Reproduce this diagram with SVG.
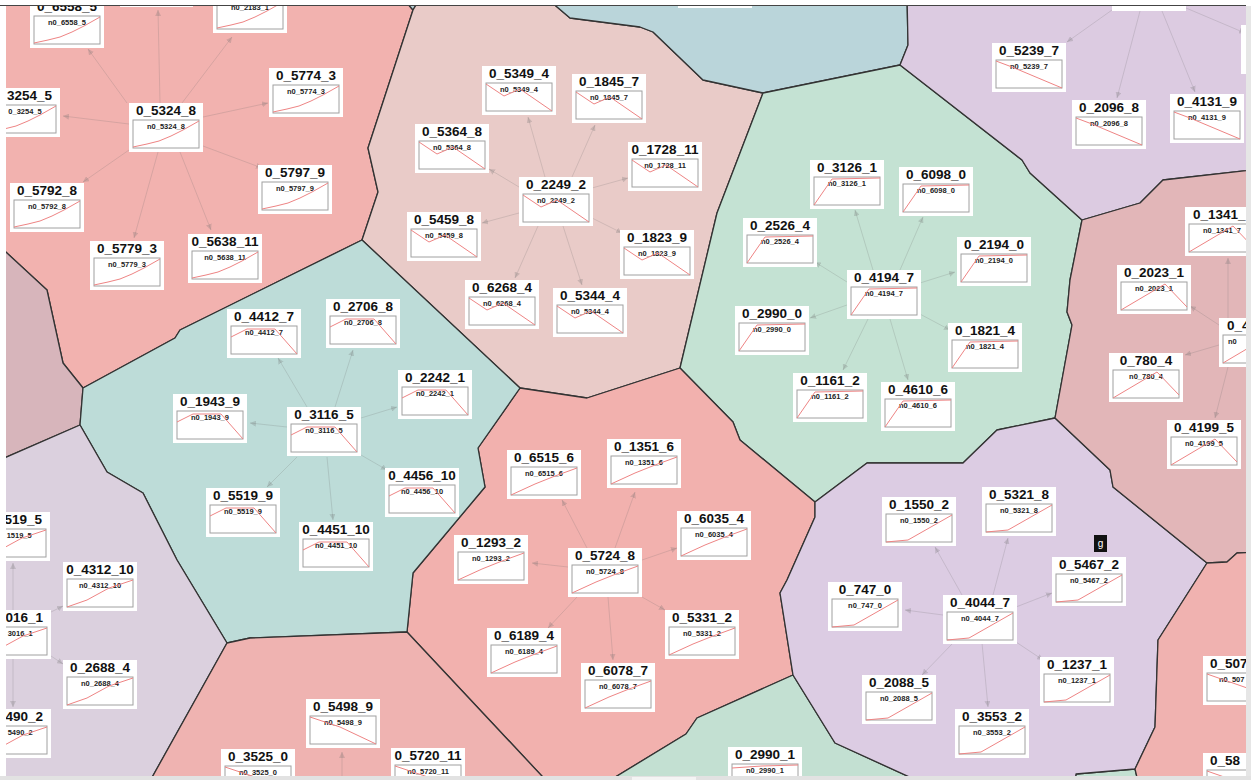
<svg xmlns="http://www.w3.org/2000/svg" xmlns:xlink="http://www.w3.org/1999/xlink" width="1251" height="780" viewBox="0 0 1251 780">
<style>
.rg{stroke:#333;stroke-width:1.3;stroke-linejoin:round}
.nb{fill:#fff}
.ib{fill:#fff;stroke:#a0a0a0;stroke-width:1}
.t{font-family:"Liberation Sans",Arial,sans-serif;font-weight:bold;font-size:13.5px;fill:#111;text-anchor:middle}
.l{font-family:"Liberation Sans",Arial,sans-serif;font-weight:bold;font-size:7.5px;fill:#222;text-anchor:middle}
.te{text-anchor:end}
.ts{text-anchor:start}
.ch{fill:none;stroke:#ee8484;stroke-width:1}
#edges line{stroke:#6a6a6a;stroke-opacity:0.2;stroke-width:1;marker-end:url(#ah)}
</style>
<defs>
<clipPath id="frame"><rect x="6" y="6" width="1240" height="770"/></clipPath>
<marker id="ah" markerWidth="6" markerHeight="6" refX="6" refY="3" orient="auto" markerUnits="userSpaceOnUse"><path d="M0,0 L6,3 L0,6 z" fill="#6a6a6a" fill-opacity="0.25"/></marker>
<polyline id="chA" class="ch" points="0,27 14,24 26,21 38,16 50,10 66,1"/>
<polyline id="chB" class="ch" points="0,1 18,13 34,6 66,28"/>
<polyline id="chC" class="ch" points="0,11 16,3 44,3 66,28"/>
<polyline id="chD" class="ch" points="0,28 18,2 66,1"/>
<polyline id="chE" class="ch" points="0,28 24,17 44,9 66,1"/>
<polyline id="chF" class="ch" points="0,1 16,7 66,28"/>
<polyline id="chG" class="ch" points="0,28 44,2 66,25"/>
<polyline id="chH" class="ch" points="0,28 22,26 66,1"/>
<polyline id="chK" class="ch" points="0,28 20,21 42,9 66,1"/>
<polyline id="chJ" class="ch" points="0,1 30,11 66,28"/>
<polyline id="chI" class="ch" points="0,4 30,2 66,1"/>
<polyline id="chM" class="ch" points="0,1 66,24"/>
</defs>
<rect width="1251" height="780" fill="#fff"/>
<g clip-path="url(#frame)">
<g id="regions">
<polygon class="rg" fill="#f2b2af" points="-5,-5 400,-5 413,10 368,148 378,192 362,240 277,282 180,330 175,338 83,388 63,363 47,290 -5,242"/>
<polygon class="rg" fill="#b7cfd6" points="400,-5 422,-5 413,10"/>
<polygon class="rg" fill="#d7b5bb" points="-5,242 47,290 63,363 83,388 80,425 -5,462"/>
<polygon class="rg" fill="#e9cbc8" points="413,10 422,-5 543,-5 570,18 640,27 653,32 703,80 763,93 717,213 680,368 587,398 520,388 362,240 378,192 368,148"/>
<polygon class="rg" fill="#bad5da" points="543,-5 570,18 640,27 653,32 703,80 763,93 900,65 908,45 907,-5"/>
<polygon class="rg" fill="#c4e2d3" points="763,93 900,65 1022,160 1030,173 1082,220 1070,280 1067,312 1072,325 1055,418 997,430 963,463 867,463 815,502 740,440 733,422 680,368 717,213"/>
<polygon class="rg" fill="#f2b1ae" points="520,388 587,398 680,368 733,422 740,440 815,502 815,517 787,580 780,593 793,675 697,718 686,734 594,790 555,790 407,632 413,573 485,487 478,448"/>
<polygon class="rg" fill="#bddcd8" points="362,240 520,388 478,448 485,487 413,573 407,632 250,638 227,643 177,560 143,493 107,472 80,425 83,388 175,338 180,330 277,282"/>
<polygon class="rg" fill="#dbd0de" points="-5,462 80,425 107,472 143,493 177,560 227,643 145,790 -5,790"/>
<polygon class="rg" fill="#efb3b1" points="227,643 250,638 407,632 555,790 145,790"/>
<polygon class="rg" fill="#c3e0d2" points="594,790 686,734 697,718 793,675 835,743 938,790"/>
<polygon class="rg" fill="#c3e0d2" points="1074,790 1076,774 1135,769 1140,790"/>
<polygon class="rg" fill="#dccce3" points="815,502 867,463 963,463 997,430 1055,418 1110,470 1113,487 1207,563 1158,640 1155,727 1135,769 1076,774 1074,790 938,790 835,743 793,675 780,593 787,580 815,517"/>
<polygon class="rg" fill="#dccbe1" points="907,-5 1260,-5 1260,169 1163,180 1140,203 1082,220 1030,173 1022,160 900,65 908,45"/>
<polygon class="rg" fill="#e2b6b8" points="1082,220 1140,203 1163,180 1260,169 1260,552 1237,553 1227,562 1207,563 1113,487 1110,470 1055,418 1072,325 1067,312 1070,280"/>
<polygon class="rg" fill="#f0b2b0" points="1207,563 1227,562 1237,553 1260,552 1260,790 1140,790 1135,769 1155,727 1158,640"/>
</g>
<g id="edges">
<line x1="127" y1="103" x2="88" y2="49"/>
<line x1="160" y1="103" x2="158" y2="10"/>
<line x1="182" y1="103" x2="232" y2="37"/>
<line x1="203" y1="117" x2="268" y2="103"/>
<line x1="129" y1="124" x2="63" y2="116"/>
<line x1="203" y1="146" x2="262" y2="168"/>
<line x1="129" y1="150" x2="83" y2="182"/>
<line x1="158" y1="152" x2="134" y2="238"/>
<line x1="180" y1="152" x2="211" y2="230"/>
<line x1="545" y1="177" x2="528" y2="117"/>
<line x1="572" y1="177" x2="595" y2="125"/>
<line x1="519" y1="187" x2="489" y2="169"/>
<line x1="592" y1="188" x2="628" y2="178"/>
<line x1="519" y1="213" x2="482" y2="223"/>
<line x1="592" y1="218" x2="622" y2="233"/>
<line x1="538" y1="226" x2="515" y2="278"/>
<line x1="563" y1="226" x2="582" y2="285"/>
<line x1="307" y1="407" x2="278" y2="358"/>
<line x1="335" y1="407" x2="353" y2="350"/>
<line x1="361" y1="418" x2="397" y2="407"/>
<line x1="287" y1="427" x2="250" y2="423"/>
<line x1="297" y1="457" x2="267" y2="487"/>
<line x1="327" y1="457" x2="333" y2="520"/>
<line x1="361" y1="455" x2="387" y2="470"/>
<line x1="873" y1="270" x2="855" y2="210"/>
<line x1="900" y1="270" x2="923" y2="217"/>
<line x1="920" y1="283" x2="955" y2="272"/>
<line x1="847" y1="282" x2="815" y2="262"/>
<line x1="847" y1="305" x2="810" y2="318"/>
<line x1="918" y1="313" x2="950" y2="330"/>
<line x1="868" y1="319" x2="843" y2="370"/>
<line x1="890" y1="319" x2="908" y2="380"/>
<line x1="962" y1="595" x2="935" y2="547"/>
<line x1="993" y1="595" x2="1008" y2="538"/>
<line x1="1016" y1="607" x2="1052" y2="593"/>
<line x1="943" y1="615" x2="905" y2="610"/>
<line x1="953" y1="643" x2="922" y2="675"/>
<line x1="982" y1="643" x2="988" y2="707"/>
<line x1="1016" y1="642" x2="1043" y2="660"/>
<line x1="587" y1="548" x2="562" y2="500"/>
<line x1="615" y1="548" x2="635" y2="492"/>
<line x1="642" y1="560" x2="677" y2="548"/>
<line x1="568" y1="567" x2="532" y2="563"/>
<line x1="642" y1="597" x2="665" y2="610"/>
<line x1="577" y1="597" x2="548" y2="628"/>
<line x1="608" y1="597" x2="613" y2="660"/>
<line x1="1112" y1="10" x2="1067" y2="42"/>
<line x1="1140" y1="11" x2="1117" y2="98"/>
<line x1="1162" y1="11" x2="1195" y2="92"/>
<line x1="1186" y1="8" x2="1245" y2="33"/>
<line x1="1228" y1="318" x2="1228" y2="258"/>
<line x1="1219" y1="325" x2="1190" y2="306"/>
<line x1="1219" y1="345" x2="1185" y2="355"/>
<line x1="1228" y1="367" x2="1215" y2="418"/>
<line x1="13" y1="610" x2="13" y2="563"/>
<line x1="51" y1="612" x2="63" y2="606"/>
<line x1="51" y1="656" x2="63" y2="664"/>
<line x1="13" y1="659" x2="13" y2="707"/>
<line x1="342" y1="777" x2="342" y2="752"/>
</g>
<g id="nodes">
<g id="n0_6558_5" transform="translate(30,-1)"><rect class="nb" width="74" height="49"/><text class="t" x="37" y="12">0_6558_5</text><rect class="ib" x="4" y="17" width="66" height="28"/><text class="l" x="37" y="26">n0_6558_5</text><use href="#chA" x="4" y="17"/></g>
<g id="n0_2183_1" transform="translate(213,-16)"><rect class="nb" width="74" height="49"/><rect class="ib" x="4" y="17" width="66" height="28"/><text class="l" x="37" y="26">n0_2183_1</text><use href="#chA" x="4" y="17"/></g>
<g id="n_top1" transform="translate(120,-42)"><rect class="nb" width="73" height="49"/></g>
<g id="n0_3254_5" transform="translate(-14,88)"><rect class="nb" width="74" height="49"/><text class="t te" x="66" y="12">3254_5</text><rect class="ib" x="4" y="17" width="66" height="28"/><text class="l te" x="55.7" y="26">0_3254_5</text><use href="#chA" x="4" y="17"/></g>
<g id="n0_5774_3" transform="translate(269,68)"><rect class="nb" width="74" height="49"/><text class="t" x="37" y="12">0_5774_3</text><rect class="ib" x="4" y="17" width="66" height="28"/><text class="l" x="37" y="26">n0_5774_3</text><use href="#chA" x="4" y="17"/></g>
<g id="n0_5324_8" transform="translate(129,103)"><rect class="nb" width="74" height="49"/><text class="t" x="37" y="12">0_5324_8</text><rect class="ib" x="4" y="17" width="66" height="28"/><text class="l" x="37" y="26">n0_5324_8</text><use href="#chA" x="4" y="17"/></g>
<g id="n0_5797_9" transform="translate(258,165)"><rect class="nb" width="74" height="49"/><text class="t" x="37" y="12">0_5797_9</text><rect class="ib" x="4" y="17" width="66" height="28"/><text class="l" x="37" y="26">n0_5797_9</text><use href="#chA" x="4" y="17"/></g>
<g id="n0_5792_8" transform="translate(10,183)"><rect class="nb" width="74" height="49"/><text class="t" x="37" y="12">0_5792_8</text><rect class="ib" x="4" y="17" width="66" height="28"/><text class="l" x="37" y="26">n0_5792_8</text><use href="#chA" x="4" y="17"/></g>
<g id="n0_5779_3" transform="translate(90,241)"><rect class="nb" width="74" height="49"/><text class="t" x="37" y="12">0_5779_3</text><rect class="ib" x="4" y="17" width="66" height="28"/><text class="l" x="37" y="26">n0_5779_3</text><use href="#chA" x="4" y="17"/></g>
<g id="n0_5638_11" transform="translate(188,234)"><rect class="nb" width="74" height="49"/><text class="t" x="37" y="12">0_5638_11</text><rect class="ib" x="4" y="17" width="66" height="28"/><text class="l" x="37" y="26">n0_5638_11</text><use href="#chA" x="4" y="17"/></g>

<g id="n0_5349_4" transform="translate(482,66)"><rect class="nb" width="74" height="49"/><text class="t" x="37" y="12">0_5349_4</text><rect class="ib" x="4" y="17" width="66" height="28"/><text class="l" x="37" y="26">n0_5349_4</text><use href="#chB" x="4" y="17"/></g>
<g id="n0_1845_7" transform="translate(572,74)"><rect class="nb" width="74" height="49"/><text class="t" x="37" y="12">0_1845_7</text><rect class="ib" x="4" y="17" width="66" height="28"/><text class="l" x="37" y="26">n0_1845_7</text><use href="#chB" x="4" y="17"/></g>
<g id="n0_5364_8" transform="translate(415,124)"><rect class="nb" width="74" height="49"/><text class="t" x="37" y="12">0_5364_8</text><rect class="ib" x="4" y="17" width="66" height="28"/><text class="l" x="37" y="26">n0_5364_8</text><use href="#chB" x="4" y="17"/></g>
<g id="n0_1728_11" transform="translate(628,142)"><rect class="nb" width="74" height="49"/><text class="t" x="37" y="12">0_1728_11</text><rect class="ib" x="4" y="17" width="66" height="28"/><text class="l" x="37" y="26">n0_1728_11</text><use href="#chB" x="4" y="17"/></g>
<g id="n0_2249_2" transform="translate(519,177)"><rect class="nb" width="74" height="49"/><text class="t" x="37" y="12">0_2249_2</text><rect class="ib" x="4" y="17" width="66" height="28"/><text class="l" x="37" y="26">n0_2249_2</text><use href="#chB" x="4" y="17"/></g>
<g id="n0_5459_8" transform="translate(407,212)"><rect class="nb" width="74" height="49"/><text class="t" x="37" y="12">0_5459_8</text><rect class="ib" x="4" y="17" width="66" height="28"/><text class="l" x="37" y="26">n0_5459_8</text><use href="#chB" x="4" y="17"/></g>
<g id="n0_1823_9" transform="translate(620,230)"><rect class="nb" width="74" height="49"/><text class="t" x="37" y="12">0_1823_9</text><rect class="ib" x="4" y="17" width="66" height="28"/><text class="l" x="37" y="26">n0_1823_9</text><use href="#chB" x="4" y="17"/></g>
<g id="n0_6268_4" transform="translate(465,280)"><rect class="nb" width="74" height="49"/><text class="t" x="37" y="12">0_6268_4</text><rect class="ib" x="4" y="17" width="66" height="28"/><text class="l" x="37" y="26">n0_6268_4</text><use href="#chB" x="4" y="17"/></g>
<g id="n0_5344_4" transform="translate(553,288)"><rect class="nb" width="74" height="49"/><text class="t" x="37" y="12">0_5344_4</text><rect class="ib" x="4" y="17" width="66" height="28"/><text class="l" x="37" y="26">n0_5344_4</text><use href="#chB" x="4" y="17"/></g>
<g id="n_top2" transform="translate(678,-41)"><rect class="nb" width="74" height="49"/></g>

<g id="n0_4412_7" transform="translate(227,309)"><rect class="nb" width="74" height="49"/><text class="t" x="37" y="12">0_4412_7</text><rect class="ib" x="4" y="17" width="66" height="28"/><text class="l" x="37" y="26">n0_4412_7</text><use href="#chC" x="4" y="17"/></g>
<g id="n0_2706_8" transform="translate(326,299)"><rect class="nb" width="74" height="49"/><text class="t" x="37" y="12">0_2706_8</text><rect class="ib" x="4" y="17" width="66" height="28"/><text class="l" x="37" y="26">n0_2706_8</text><use href="#chC" x="4" y="17"/></g>
<g id="n0_1943_9" transform="translate(173,394)"><rect class="nb" width="74" height="49"/><text class="t" x="37" y="12">0_1943_9</text><rect class="ib" x="4" y="17" width="66" height="28"/><text class="l" x="37" y="26">n0_1943_9</text><use href="#chC" x="4" y="17"/></g>
<g id="n0_3116_5" transform="translate(287,407)"><rect class="nb" width="74" height="49"/><text class="t" x="37" y="12">0_3116_5</text><rect class="ib" x="4" y="17" width="66" height="28"/><text class="l" x="37" y="26">n0_3116_5</text><use href="#chC" x="4" y="17"/></g>
<g id="n0_2242_1" transform="translate(398,370)"><rect class="nb" width="74" height="49"/><text class="t" x="37" y="12">0_2242_1</text><rect class="ib" x="4" y="17" width="66" height="28"/><text class="l" x="37" y="26">n0_2242_1</text><use href="#chC" x="4" y="17"/></g>
<g id="n0_5519_9" transform="translate(206,488)"><rect class="nb" width="74" height="49"/><text class="t" x="37" y="12">0_5519_9</text><rect class="ib" x="4" y="17" width="66" height="28"/><text class="l" x="37" y="26">n0_5519_9</text><use href="#chC" x="4" y="17"/></g>
<g id="n0_4451_10" transform="translate(299,522)"><rect class="nb" width="74" height="49"/><text class="t" x="37" y="12">0_4451_10</text><rect class="ib" x="4" y="17" width="66" height="28"/><text class="l" x="37" y="26">n0_4451_10</text><use href="#chC" x="4" y="17"/></g>
<g id="n0_4456_10" transform="translate(385,468)"><rect class="nb" width="74" height="49"/><text class="t" x="37" y="12">0_4456_10</text><rect class="ib" x="4" y="17" width="66" height="28"/><text class="l" x="37" y="26">n0_4456_10</text><use href="#chC" x="4" y="17"/></g>

<g id="n0_3126_1" transform="translate(810,160)"><rect class="nb" width="74" height="49"/><text class="t" x="37" y="12">0_3126_1</text><rect class="ib" x="4" y="17" width="66" height="28"/><text class="l" x="37" y="26">n0_3126_1</text><use href="#chD" x="4" y="17"/></g>
<g id="n0_6098_0" transform="translate(899,167)"><rect class="nb" width="74" height="49"/><text class="t" x="37" y="12">0_6098_0</text><rect class="ib" x="4" y="17" width="66" height="28"/><text class="l" x="37" y="26">n0_6098_0</text><use href="#chD" x="4" y="17"/></g>
<g id="n0_2526_4" transform="translate(743,218)"><rect class="nb" width="74" height="49"/><text class="t" x="37" y="12">0_2526_4</text><rect class="ib" x="4" y="17" width="66" height="28"/><text class="l" x="37" y="26">n0_2526_4</text><use href="#chD" x="4" y="17"/></g>
<g id="n0_2194_0" transform="translate(957,237)"><rect class="nb" width="74" height="49"/><text class="t" x="37" y="12">0_2194_0</text><rect class="ib" x="4" y="17" width="66" height="28"/><text class="l" x="37" y="26">n0_2194_0</text><use href="#chD" x="4" y="17"/></g>
<g id="n0_4194_7" transform="translate(847,270)"><rect class="nb" width="74" height="49"/><text class="t" x="37" y="12">0_4194_7</text><rect class="ib" x="4" y="17" width="66" height="28"/><text class="l" x="37" y="26">n0_4194_7</text><use href="#chD" x="4" y="17"/></g>
<g id="n0_2990_0" transform="translate(735,306)"><rect class="nb" width="74" height="49"/><text class="t" x="37" y="12">0_2990_0</text><rect class="ib" x="4" y="17" width="66" height="28"/><text class="l" x="37" y="26">n0_2990_0</text><use href="#chD" x="4" y="17"/></g>
<g id="n0_1821_4" transform="translate(948,323)"><rect class="nb" width="74" height="49"/><text class="t" x="37" y="12">0_1821_4</text><rect class="ib" x="4" y="17" width="66" height="28"/><text class="l" x="37" y="26">n0_1821_4</text><use href="#chD" x="4" y="17"/></g>
<g id="n0_1161_2" transform="translate(793,373)"><rect class="nb" width="74" height="49"/><text class="t" x="37" y="12">0_1161_2</text><rect class="ib" x="4" y="17" width="66" height="28"/><text class="l" x="37" y="26">n0_1161_2</text><use href="#chD" x="4" y="17"/></g>
<g id="n0_4610_6" transform="translate(881,382)"><rect class="nb" width="74" height="49"/><text class="t" x="37" y="12">0_4610_6</text><rect class="ib" x="4" y="17" width="66" height="28"/><text class="l" x="37" y="26">n0_4610_6</text><use href="#chD" x="4" y="17"/></g>

<g id="n0_6515_6" transform="translate(507,450)"><rect class="nb" width="74" height="49"/><text class="t" x="37" y="12">0_6515_6</text><rect class="ib" x="4" y="17" width="66" height="28"/><text class="l" x="37" y="26">n0_6515_6</text><use href="#chE" x="4" y="17"/></g>
<g id="n0_1351_6" transform="translate(607,439)"><rect class="nb" width="74" height="49"/><text class="t" x="37" y="12">0_1351_6</text><rect class="ib" x="4" y="17" width="66" height="28"/><text class="l" x="37" y="26">n0_1351_6</text><use href="#chE" x="4" y="17"/></g>
<g id="n0_6035_4" transform="translate(677,511)"><rect class="nb" width="74" height="49"/><text class="t" x="37" y="12">0_6035_4</text><rect class="ib" x="4" y="17" width="66" height="28"/><text class="l" x="37" y="26">n0_6035_4</text><use href="#chE" x="4" y="17"/></g>
<g id="n0_1293_2" transform="translate(454,535)"><rect class="nb" width="74" height="49"/><text class="t" x="37" y="12">0_1293_2</text><rect class="ib" x="4" y="17" width="66" height="28"/><text class="l" x="37" y="26">n0_1293_2</text><use href="#chE" x="4" y="17"/></g>
<g id="n0_5724_8" transform="translate(568,548)"><rect class="nb" width="74" height="49"/><text class="t" x="37" y="12">0_5724_8</text><rect class="ib" x="4" y="17" width="66" height="28"/><text class="l" x="37" y="26">n0_5724_8</text><use href="#chE" x="4" y="17"/></g>
<g id="n0_5331_2" transform="translate(665,610)"><rect class="nb" width="74" height="49"/><text class="t" x="37" y="12">0_5331_2</text><rect class="ib" x="4" y="17" width="66" height="28"/><text class="l" x="37" y="26">n0_5331_2</text><use href="#chE" x="4" y="17"/></g>
<g id="n0_6189_4" transform="translate(487,628)"><rect class="nb" width="74" height="49"/><text class="t" x="37" y="12">0_6189_4</text><rect class="ib" x="4" y="17" width="66" height="28"/><text class="l" x="37" y="26">n0_6189_4</text><use href="#chE" x="4" y="17"/></g>
<g id="n0_6078_7" transform="translate(581,663)"><rect class="nb" width="74" height="49"/><text class="t" x="37" y="12">0_6078_7</text><rect class="ib" x="4" y="17" width="66" height="28"/><text class="l" x="37" y="26">n0_6078_7</text><use href="#chE" x="4" y="17"/></g>

<g id="n_top3" transform="translate(1112,-38)"><rect class="nb" width="74" height="49"/></g>
<g id="n0_5239_7" transform="translate(992,43)"><rect class="nb" width="74" height="49"/><text class="t" x="37" y="12">0_5239_7</text><rect class="ib" x="4" y="17" width="66" height="28"/><text class="l" x="37" y="26">n0_5239_7</text><use href="#chF" x="4" y="17"/></g>
<g id="n0_2096_8" transform="translate(1072,100)"><rect class="nb" width="74" height="49"/><text class="t" x="37" y="12">0_2096_8</text><rect class="ib" x="4" y="17" width="66" height="28"/><text class="l" x="37" y="26">n0_2096_8</text><use href="#chF" x="4" y="17"/></g>
<g id="n0_4131_9" transform="translate(1170,94)"><rect class="nb" width="74" height="49"/><text class="t" x="37" y="12">0_4131_9</text><rect class="ib" x="4" y="17" width="66" height="28"/><text class="l" x="37" y="26">n0_4131_9</text><use href="#chF" x="4" y="17"/></g>
<g id="n_right1" transform="translate(1241,25)"><rect class="nb" width="74" height="49"/></g>

<g id="n0_1341_7" transform="translate(1185,207)"><rect class="nb" width="74" height="49"/><text class="t ts" x="8" y="12">0_1341_</text><rect class="ib" x="4" y="17" width="66" height="28"/><text class="l" x="37" y="26">n0_1341_7</text><use href="#chG" x="4" y="17"/></g>
<g id="n0_2023_1" transform="translate(1117,265)"><rect class="nb" width="74" height="49"/><text class="t" x="37" y="12">0_2023_1</text><rect class="ib" x="4" y="17" width="66" height="28"/><text class="l" x="37" y="26">n0_2023_1</text><use href="#chG" x="4" y="17"/></g>
<g id="n0_4" transform="translate(1219,318)"><rect class="nb" width="74" height="49"/><text class="t ts" x="8" y="12">0_4</text><rect class="ib" x="4" y="17" width="66" height="28"/><text class="l ts" x="9" y="26">n0</text><use href="#chG" x="4" y="17"/></g>
<g id="n0_780_4" transform="translate(1109,353)"><rect class="nb" width="74" height="49"/><text class="t" x="37" y="12">0_780_4</text><rect class="ib" x="4" y="17" width="66" height="28"/><text class="l" x="37" y="26">n0_780_4</text><use href="#chG" x="4" y="17"/></g>
<g id="n0_4199_5" transform="translate(1167,420)"><rect class="nb" width="74" height="49"/><text class="t" x="37" y="12">0_4199_5</text><rect class="ib" x="4" y="17" width="66" height="28"/><text class="l" x="37" y="26">n0_4199_5</text><use href="#chG" x="4" y="17"/></g>

<g id="n0_1550_2" transform="translate(882,497)"><rect class="nb" width="74" height="49"/><text class="t" x="37" y="12">0_1550_2</text><rect class="ib" x="4" y="17" width="66" height="28"/><text class="l" x="37" y="26">n0_1550_2</text><use href="#chH" x="4" y="17"/></g>
<g id="n0_5321_8" transform="translate(982,487)"><rect class="nb" width="74" height="49"/><text class="t" x="37" y="12">0_5321_8</text><rect class="ib" x="4" y="17" width="66" height="28"/><text class="l" x="37" y="26">n0_5321_8</text><use href="#chH" x="4" y="17"/></g>
<g id="n0_5467_2" transform="translate(1052,557)"><rect class="nb" width="74" height="49"/><text class="t" x="37" y="12">0_5467_2</text><rect class="ib" x="4" y="17" width="66" height="28"/><text class="l" x="37" y="26">n0_5467_2</text><use href="#chH" x="4" y="17"/></g>
<g id="n0_747_0" transform="translate(828,582)"><rect class="nb" width="74" height="49"/><text class="t" x="37" y="12">0_747_0</text><rect class="ib" x="4" y="17" width="66" height="28"/><text class="l" x="37" y="26">n0_747_0</text><use href="#chH" x="4" y="17"/></g>
<g id="n0_4044_7" transform="translate(943,595)"><rect class="nb" width="74" height="49"/><text class="t" x="37" y="12">0_4044_7</text><rect class="ib" x="4" y="17" width="66" height="28"/><text class="l" x="37" y="26">n0_4044_7</text><use href="#chH" x="4" y="17"/></g>
<g id="n0_2088_5" transform="translate(862,675)"><rect class="nb" width="74" height="49"/><text class="t" x="37" y="12">0_2088_5</text><rect class="ib" x="4" y="17" width="66" height="28"/><text class="l" x="37" y="26">n0_2088_5</text><use href="#chH" x="4" y="17"/></g>
<g id="n0_1237_1" transform="translate(1040,657)"><rect class="nb" width="74" height="49"/><text class="t" x="37" y="12">0_1237_1</text><rect class="ib" x="4" y="17" width="66" height="28"/><text class="l" x="37" y="26">n0_1237_1</text><use href="#chH" x="4" y="17"/></g>
<g id="n0_3553_2" transform="translate(955,709)"><rect class="nb" width="74" height="49"/><text class="t" x="37" y="12">0_3553_2</text><rect class="ib" x="4" y="17" width="66" height="28"/><text class="l" x="37" y="26">n0_3553_2</text><use href="#chH" x="4" y="17"/></g>

<g id="n0_1519_5" transform="translate(-24,512)"><rect class="nb" width="74" height="49"/><text class="t te" x="66" y="12">519_5</text><rect class="ib" x="4" y="17" width="66" height="28"/><text class="l te" x="55.7" y="26">1519_5</text><use href="#chK" x="4" y="17"/></g>
<g id="n0_4312_10" transform="translate(63,562)"><rect class="nb" width="74" height="49"/><text class="t" x="37" y="12">0_4312_10</text><rect class="ib" x="4" y="17" width="66" height="28"/><text class="l" x="37" y="26">n0_4312_10</text><use href="#chK" x="4" y="17"/></g>
<g id="n0_3016_1" transform="translate(-23,610)"><rect class="nb" width="74" height="49"/><text class="t te" x="66" y="12">016_1</text><rect class="ib" x="4" y="17" width="66" height="28"/><text class="l te" x="55.7" y="26">3016_1</text><use href="#chK" x="4" y="17"/></g>
<g id="n0_2688_4" transform="translate(63,660)"><rect class="nb" width="74" height="49"/><text class="t" x="37" y="12">0_2688_4</text><rect class="ib" x="4" y="17" width="66" height="28"/><text class="l" x="37" y="26">n0_2688_4</text><use href="#chK" x="4" y="17"/></g>
<g id="n0_5490_2" transform="translate(-23,709)"><rect class="nb" width="74" height="49"/><text class="t te" x="66" y="12">490_2</text><rect class="ib" x="4" y="17" width="66" height="28"/><text class="l te" x="55.7" y="26">5490_2</text><use href="#chK" x="4" y="17"/></g>

<g id="n0_5498_9" transform="translate(306,699)"><rect class="nb" width="74" height="49"/><text class="t" x="37" y="12">0_5498_9</text><rect class="ib" x="4" y="17" width="66" height="28"/><text class="l" x="37" y="26">n0_5498_9</text><use href="#chJ" x="4" y="17"/></g>
<g id="n0_3525_0" transform="translate(221,749)"><rect class="nb" width="74" height="49"/><text class="t" x="37" y="12">0_3525_0</text><rect class="ib" x="4" y="17" width="66" height="28"/><text class="l" x="37" y="26">n0_3525_0</text><use href="#chJ" x="4" y="17"/></g>
<g id="n0_5720_11" transform="translate(391,748)"><rect class="nb" width="74" height="49"/><text class="t" x="37" y="12">0_5720_11</text><rect class="ib" x="4" y="17" width="66" height="28"/><text class="l" x="37" y="26">n0_5720_11</text><use href="#chJ" x="4" y="17"/></g>
<g id="n0_2990_1" transform="translate(728,747)"><rect class="nb" width="74" height="49"/><text class="t" x="37" y="12">0_2990_1</text><rect class="ib" x="4" y="17" width="66" height="28"/><text class="l" x="37" y="26">n0_2990_1</text><use href="#chI" x="4" y="17"/></g>
<g id="n0_507" transform="translate(1203,656)"><rect class="nb" width="74" height="49"/><text class="t ts" x="7" y="12">0_507</text><rect class="ib" x="4" y="17" width="66" height="28"/><text class="l ts" x="16" y="26">n0_507</text><use href="#chM" x="4" y="17"/></g>
<g id="n0_58" transform="translate(1203,753)"><rect class="nb" width="74" height="49"/><text class="t ts" x="7" y="12">0_58</text><rect class="ib" x="4" y="17" width="66" height="28"/><use href="#chM" x="4" y="17"/></g>
</g>
</g>
<g id="tooltip"><rect x="1094" y="535" width="13" height="17" fill="#111"/><text x="1100.5" y="547" font-family="Liberation Sans, Arial, sans-serif" font-size="10" fill="#fff" text-anchor="middle">g</text></g>
<line x1="0" y1="5.5" x2="1246" y2="5.5" stroke="#444" stroke-width="1"/>
<rect x="1246" y="6" width="5" height="774" fill="#e6e6e6"/>
<rect x="0" y="776" width="1251" height="4" fill="#e2e2e2"/>
<rect x="632" y="777" width="64" height="3" fill="#f4f4f4"/>
</svg>
